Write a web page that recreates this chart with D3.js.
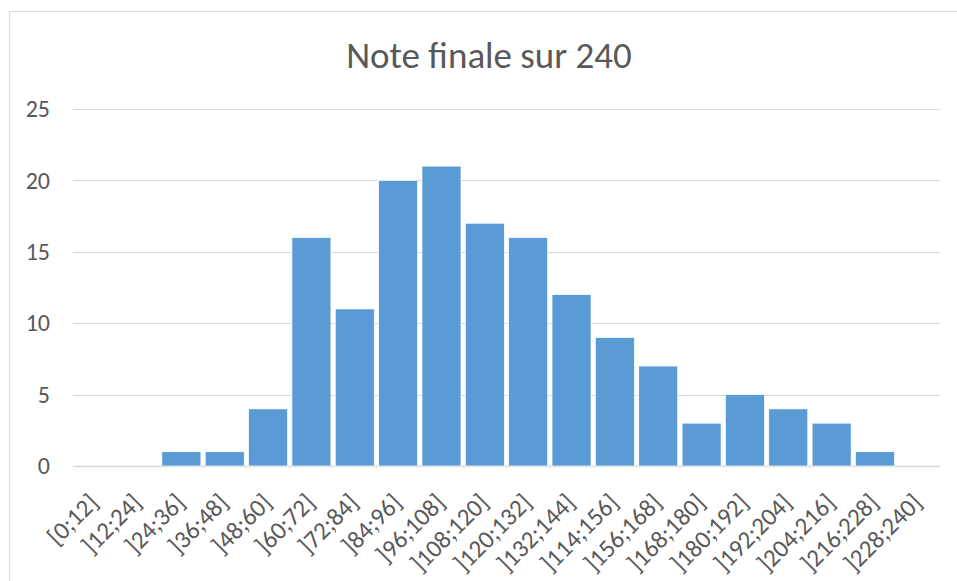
<!DOCTYPE html>
<html>
<head>
<meta charset="utf-8">
<script src="https://cdn.jsdelivr.net/npm/d3@7"></script>
<style>
    body { margin: 0; background: #fff; }
    text { font-family: Carlito, Calibri, Lato, sans-serif; fill: #595959; }
</style>
</head>
<body>
<div id="chart"></div>
<script>
let categories = ['[0;12]', ']12;24]', ']24;36]', ']36;48]', ']48;60]', ']60;72]', ']72;84]',
    ']84;96]', ']96;108]', ']108;120]', ']120;132]', ']132;144]', ']114;156]', ']156;168]',
    ']168;180]', ']180;192]', ']192;204]', ']204;216]', ']216;228]', ']228;240]']
let counts = [0, 0, 1, 1, 4, 16, 11, 20, 21, 17, 16, 12, 9, 7, 3, 5, 4, 3, 1, 0]
let yTicks = [0, 5, 10, 15, 20, 25]
let title = 'Note finale sur 240'

let svgWidth = 957
let svgHeight = 581
let padding = { 'left': 73, 'right': 17, 'top': 109, 'bottom': 115 }

let svg = d3.select('#chart').append('svg')
    .attr('width', svgWidth)
    .attr('height', svgHeight)

// chart frame
svg.append('rect')
    .attr('x', 9.5)
    .attr('y', 11.5)
    .attr('width', svgWidth + 10)
    .attr('height', svgHeight + 10)
    .attr('fill', 'none')
    .attr('stroke', '#d9d9d9')

let x = d3.scaleBand()
    .domain(categories)
    .range([padding.left, svgWidth - padding.right])
    .paddingInner(0.1)
    .paddingOuter(0.05)

let y = d3.scaleLinear()
    .domain([0, 25])
    .range([svgHeight - padding.bottom, padding.top])

// gridlines
svg.append('g')
    .selectAll('line')
    .data(yTicks)
    .enter()
    .append('line')
    .attr('x1', padding.left)
    .attr('x2', svgWidth - padding.right)
    .attr('y1', d => Math.round(y(d)) + 0.5)
    .attr('y2', d => Math.round(y(d)) + 0.5)
    .attr('stroke', '#d9d9d9')
    .attr('stroke-width', d => d == 0 ? 1.5 : 1)

let axis_y = d3.axisLeft(y)
    .tickValues(yTicks)
    .tickSize(0)
    .tickPadding(0)
let gy = svg.append('g')
    .attr('transform', `translate(${50}, 0)`)
    .call(axis_y)
gy.select('.domain').remove()
gy.selectAll('text')
    .style('font-size', '24px')
    .style('fill', '#595959')

// bars
svg.append('g')
    .selectAll('rect')
    .data(counts)
    .enter()
    .append('rect')
    .attr('x', (d, i) => x(categories[i]))
    .attr('y', d => y(d))
    .attr('width', x.bandwidth())
    .attr('height', d => y(0) - y(d))
    .attr('fill', '#5b9bd5')
    .attr('stroke', '#fff')
    .attr('stroke-width', 0.7)

// x labels
let axis_x = d3.axisBottom(x).tickSize(0).tickPadding(0)
let gx = svg.append('g')
    .attr('transform', `translate(0, ${y(0)})`)
    .call(axis_x)
gx.select('.domain').remove()
gx.selectAll('text')
    .style('font-size', '25px')
    .style('fill', '#595959')
    .attr('text-anchor', 'end')
    .attr('dy', 0)
    .attr('transform', 'translate(5, 38) rotate(-45)')

svg.append('text')
    .attr('x', 489)
    .attr('y', 68)
    .attr('text-anchor', 'middle')
    .style('font-size', '37px')
    .text(title)
</script>
</body>
</html>
